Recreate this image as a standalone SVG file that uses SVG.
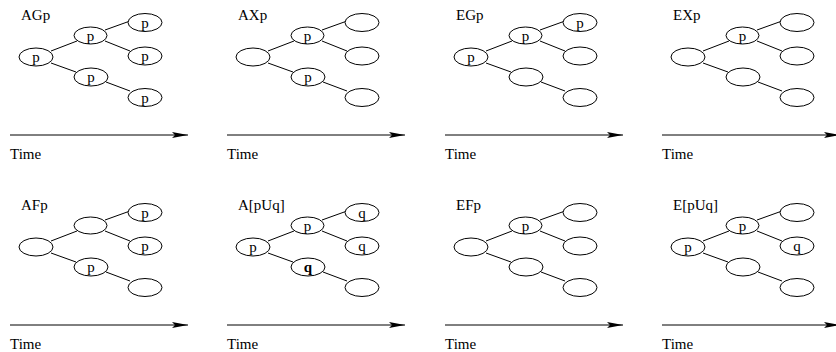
<svg xmlns="http://www.w3.org/2000/svg" width="836" height="352" viewBox="0 0 836 352">
<style>
.nd ellipse{fill:#fff;stroke:#000;stroke-width:1}
.t{font-family:"Liberation Serif","Times New Roman",serif;font-size:15px;fill:#000}
.c{text-anchor:middle}
.ax{stroke:#000;stroke-width:1;marker-end:url(#ah)}
</style>
<defs>
<marker id="ah" markerUnits="userSpaceOnUse" markerWidth="17" markerHeight="8" viewBox="0 -4 17 8" refX="16" refY="0" orient="auto">
<path d="M0,-3 L16,0 L0,3 L3,0 Z" fill="#000"/>
</marker>
<g id="edges" stroke="#000" stroke-width="1" fill="none">
<line x1="51" y1="51" x2="77" y2="41"/>
<line x1="51" y1="63" x2="76" y2="72"/>
<line x1="105" y1="30" x2="130" y2="21"/>
<line x1="105" y1="41" x2="130" y2="51"/>
<line x1="106" y1="82" x2="130" y2="91"/>
</g>
</defs>

<g id="connectors">
<use href="#edges" x="0" y="0"/>
<use href="#edges" x="217" y="0"/>
<use href="#edges" x="435" y="0"/>
<use href="#edges" x="652" y="0"/>
<use href="#edges" x="0" y="190"/>
<use href="#edges" x="217" y="190"/>
<use href="#edges" x="435" y="190"/>
<use href="#edges" x="652" y="190"/>
<line class="ax" x1="10" y1="135" x2="188" y2="135"/>
<line class="ax" x1="227" y1="135" x2="405" y2="135"/>
<line class="ax" x1="445" y1="135" x2="623" y2="135"/>
<line class="ax" x1="662" y1="135" x2="840" y2="135"/>
<line class="ax" x1="10" y1="325" x2="188" y2="325"/>
<line class="ax" x1="227" y1="325" x2="405" y2="325"/>
<line class="ax" x1="445" y1="325" x2="623" y2="325"/>
<line class="ax" x1="662" y1="325" x2="840" y2="325"/>
</g>

<!-- Panel 1: AGp -->
<g id="panel-AGp" transform="translate(0,0)">
<text class="t" x="21" y="19.5">AGp</text>
<text class="t" x="10" y="159">Time</text>
<g id="AGp-n0" class="nd"><ellipse cx="36" cy="57" rx="17" ry="9"/><text class="t c" x="36" y="62">p</text></g>
<g id="AGp-n1" class="nd"><ellipse cx="90.5" cy="35.5" rx="16.5" ry="8.5"/><text class="t c" x="90.5" y="40.5">p</text></g>
<g id="AGp-n2" class="nd"><ellipse cx="91" cy="77" rx="17" ry="9"/><text class="t c" x="91" y="82">p</text></g>
<g id="AGp-n3" class="nd"><ellipse cx="145" cy="22.5" rx="17" ry="9"/><text class="t c" x="145" y="27.5">p</text></g>
<g id="AGp-n4" class="nd"><ellipse cx="145" cy="56" rx="17" ry="9"/><text class="t c" x="145" y="61">p</text></g>
<g id="AGp-n5" class="nd"><ellipse cx="145" cy="97.5" rx="17" ry="9"/><text class="t c" x="145" y="102.5">p</text></g>
</g>

<!-- Panel 2: AXp -->
<g id="panel-AXp" transform="translate(217,0)">
<text class="t" x="21" y="19.5">AXp</text>
<text class="t" x="10" y="159">Time</text>
<g id="AXp-n0" class="nd"><ellipse cx="36" cy="57" rx="17" ry="9"/></g>
<g id="AXp-n1" class="nd"><ellipse cx="90.5" cy="35.5" rx="16.5" ry="8.5"/><text class="t c" x="90.5" y="40.5">p</text></g>
<g id="AXp-n2" class="nd"><ellipse cx="91" cy="77" rx="17" ry="9"/><text class="t c" x="91" y="82">p</text></g>
<g id="AXp-n3" class="nd"><ellipse cx="145" cy="22.5" rx="17" ry="9"/></g>
<g id="AXp-n4" class="nd"><ellipse cx="145" cy="56" rx="17" ry="9"/></g>
<g id="AXp-n5" class="nd"><ellipse cx="145" cy="97.5" rx="17" ry="9"/></g>
</g>

<!-- Panel 3: EGp -->
<g id="panel-EGp" transform="translate(435,0)">
<text class="t" x="21" y="19.5">EGp</text>
<text class="t" x="10" y="159">Time</text>
<g id="EGp-n0" class="nd"><ellipse cx="36" cy="57" rx="17" ry="9"/><text class="t c" x="36" y="62">p</text></g>
<g id="EGp-n1" class="nd"><ellipse cx="90.5" cy="35.5" rx="16.5" ry="8.5"/><text class="t c" x="90.5" y="40.5">p</text></g>
<g id="EGp-n2" class="nd"><ellipse cx="91" cy="77" rx="17" ry="9"/></g>
<g id="EGp-n3" class="nd"><ellipse cx="145" cy="22.5" rx="17" ry="9"/><text class="t c" x="145" y="27.5">p</text></g>
<g id="EGp-n4" class="nd"><ellipse cx="145" cy="56" rx="17" ry="9"/></g>
<g id="EGp-n5" class="nd"><ellipse cx="145" cy="97.5" rx="17" ry="9"/></g>
</g>

<!-- Panel 4: EXp -->
<g id="panel-EXp" transform="translate(652,0)">
<text class="t" x="21" y="19.5">EXp</text>
<text class="t" x="10" y="159">Time</text>
<g id="EXp-n0" class="nd"><ellipse cx="36" cy="57" rx="17" ry="9"/></g>
<g id="EXp-n1" class="nd"><ellipse cx="90.5" cy="35.5" rx="16.5" ry="8.5"/><text class="t c" x="90.5" y="40.5">p</text></g>
<g id="EXp-n2" class="nd"><ellipse cx="91" cy="77" rx="17" ry="9"/></g>
<g id="EXp-n3" class="nd"><ellipse cx="145" cy="22.5" rx="17" ry="9"/></g>
<g id="EXp-n4" class="nd"><ellipse cx="145" cy="56" rx="17" ry="9"/></g>
<g id="EXp-n5" class="nd"><ellipse cx="145" cy="97.5" rx="17" ry="9"/></g>
</g>

<!-- Panel 5: AFp -->
<g id="panel-AFp" transform="translate(0,190)">
<text class="t" x="21" y="19.5">AFp</text>
<text class="t" x="10" y="159">Time</text>
<g id="AFp-n0" class="nd"><ellipse cx="36" cy="57" rx="17" ry="9"/></g>
<g id="AFp-n1" class="nd"><ellipse cx="90.5" cy="35.5" rx="16.5" ry="8.5"/></g>
<g id="AFp-n2" class="nd"><ellipse cx="91" cy="77" rx="17" ry="9"/><text class="t c" x="91" y="82">p</text></g>
<g id="AFp-n3" class="nd"><ellipse cx="145" cy="22.5" rx="17" ry="9"/><text class="t c" x="145" y="27.5">p</text></g>
<g id="AFp-n4" class="nd"><ellipse cx="145" cy="56" rx="17" ry="9"/><text class="t c" x="145" y="61">p</text></g>
<g id="AFp-n5" class="nd"><ellipse cx="145" cy="97.5" rx="17" ry="9"/></g>
</g>

<!-- Panel 6: A[pUq] -->
<g id="panel-ApUq" transform="translate(217,190)">
<text class="t" x="21" y="19.5">A[pUq]</text>
<text class="t" x="10" y="159">Time</text>
<g id="ApUq-n0" class="nd"><ellipse cx="36" cy="57" rx="17" ry="9"/><text class="t c" x="36" y="62">p</text></g>
<g id="ApUq-n1" class="nd"><ellipse cx="90.5" cy="35.5" rx="16.5" ry="8.5"/><text class="t c" x="90.5" y="40.5">p</text></g>
<g id="ApUq-n2" class="nd"><ellipse cx="91" cy="77" rx="17" ry="9"/><text class="t c" x="91" y="82" font-weight="bold">q</text></g>
<g id="ApUq-n3" class="nd"><ellipse cx="145" cy="22.5" rx="17" ry="9"/><text class="t c" x="145" y="27.5">q</text></g>
<g id="ApUq-n4" class="nd"><ellipse cx="145" cy="56" rx="17" ry="9"/><text class="t c" x="145" y="61">q</text></g>
<g id="ApUq-n5" class="nd"><ellipse cx="145" cy="97.5" rx="17" ry="9"/></g>
</g>

<!-- Panel 7: EFp -->
<g id="panel-EFp" transform="translate(435,190)">
<text class="t" x="21" y="19.5">EFp</text>
<text class="t" x="10" y="159">Time</text>
<g id="EFp-n0" class="nd"><ellipse cx="36" cy="57" rx="17" ry="9"/></g>
<g id="EFp-n1" class="nd"><ellipse cx="90.5" cy="35.5" rx="16.5" ry="8.5"/><text class="t c" x="90.5" y="40.5">p</text></g>
<g id="EFp-n2" class="nd"><ellipse cx="91" cy="77" rx="17" ry="9"/></g>
<g id="EFp-n3" class="nd"><ellipse cx="145" cy="22.5" rx="17" ry="9"/></g>
<g id="EFp-n4" class="nd"><ellipse cx="145" cy="56" rx="17" ry="9"/></g>
<g id="EFp-n5" class="nd"><ellipse cx="145" cy="97.5" rx="17" ry="9"/></g>
</g>

<!-- Panel 8: E[pUq] -->
<g id="panel-EpUq" transform="translate(652,190)">
<text class="t" x="21" y="19.5">E[pUq]</text>
<text class="t" x="10" y="159">Time</text>
<g id="EpUq-n0" class="nd"><ellipse cx="36" cy="57" rx="17" ry="9"/><text class="t c" x="36" y="62">p</text></g>
<g id="EpUq-n1" class="nd"><ellipse cx="90.5" cy="35.5" rx="16.5" ry="8.5"/><text class="t c" x="90.5" y="40.5">p</text></g>
<g id="EpUq-n2" class="nd"><ellipse cx="91" cy="77" rx="17" ry="9"/></g>
<g id="EpUq-n3" class="nd"><ellipse cx="145" cy="22.5" rx="17" ry="9"/></g>
<g id="EpUq-n4" class="nd"><ellipse cx="145" cy="56" rx="17" ry="9"/><text class="t c" x="145" y="61">q</text></g>
<g id="EpUq-n5" class="nd"><ellipse cx="145" cy="97.5" rx="17" ry="9"/></g>
</g>
</svg>
